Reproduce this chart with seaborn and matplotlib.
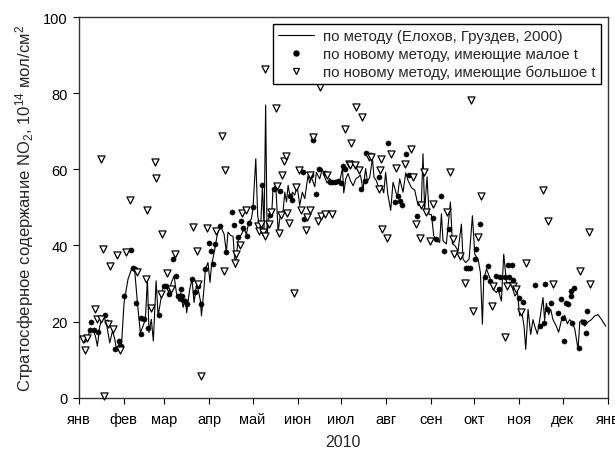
import numpy as np
import pandas as pd
import matplotlib
matplotlib.use("Agg")
import matplotlib.pyplot as plt
import seaborn as sns
from matplotlib.lines import Line2D

# ---------------- data (day of year 2010, value in 1e14 mol/cm^2) ----------------
line_day = [2.3, 4.1, 6, 7.6, 9.9, 11.5, 12.9, 14.5, 16.8, 18.9, 21.4, 23.3, 24.8, 26, 27.6, 29.4,
            31.3, 34, 36.8, 38.6, 40.5, 42.5, 44.4, 46, 47.4, 48.5, 50.1, 51.5, 53.4, 54.8, 56.6,
            58.2, 60.5, 62.1, 64, 65.8, 67.4, 69, 70.4, 72, 73.6, 74.5, 76.6, 78.2, 79.6, 81.2,
            82.4, 84, 84.7, 86.5, 87.4, 89.2, 90.6, 91.6, 93.9, 95.7, 97.3, 98.5, 100.3, 101.9,
            103, 104.9, 106.5, 108.1, 109, 110.4, 112.3, 114.1, 115.7, 117.3, 119.2, 120.3,
            122.2, 123.5, 125.4, 126.8, 127.9, 129, 130, 131.5, 133.1, 134.1, 136, 137.6, 139.2,
            141.1, 142.2, 143.4, 144.5, 146.1, 147.5, 149.1, 150.7, 152.5, 154.3, 156, 157.1,
            158.3, 159.4, 160.6, 162.9, 164, 166.3, 168.1, 169.8, 171.4, 173.2, 175.5, 177.8,
            180.1, 182, 182.9, 184.3, 185.9, 187.5, 189.4, 191.2, 192.8, 194.4, 196.2, 198,
            199.2, 200.8, 202.7, 203.8, 205.4, 207, 208.8, 210.5, 211.8, 213.4, 215.3, 216.9,
            218, 219.9, 221.5, 223.8, 225.7, 227.3, 229.6, 231.9, 234.2, 236.5, 237.6, 238.7,
            240.4, 241.8, 243.4, 245, 246.8, 249.1, 250.3, 251.4, 253.7, 256.5, 257.9, 259.5,
            261.8, 264.1, 265.2, 267.1, 269.4, 271.7, 273.3, 275.6, 277.2, 278.6, 279.5, 281.4,
            283.6, 286, 288.3, 289.4, 291.7, 293.3, 295.2, 298.2, 301, 302.8, 304.3, 305.5,
            307.3, 308.5, 310.1, 311.9, 313.5, 314.7, 316.5, 318.1, 320.4, 321.5, 322.7, 324.3,
            325.7, 327.3, 329.6, 331.2, 333.1, 335.3, 337.2, 338.8, 340.4, 342.3, 344.6, 345.8,
            347.4, 349.2, 351.5, 353.8, 356.1, 358.4, 360.7, 363.7]
line_val = [15.3, 14.4, 15.6, 17.5, 17.8, 16.2, 13.5, 18.8, 21.5, 20, 14.4, 17.5, 15.6, 12.7, 14, 13.2,
            25, 31.1, 34.2, 33.5, 25, 17.1, 18.8, 20.6, 31.1, 17.1, 20.6, 14.9, 30.7, 21.5, 25.6,
            29, 29.4, 27.6, 30.3, 32, 27.6, 25.4, 27.6, 23.7, 25.9, 22.3, 28.5, 31.1, 25, 29.4,
            28.5, 25.4, 21.5, 28.9, 33.8, 35.5, 30.3, 34.6, 39, 43, 44.8, 44.5, 43, 38.2,
            43.5, 42.6, 42.4, 34.2, 38.2, 42.1, 42.9, 44.3, 43, 46, 47, 50,
            62.8, 47.8, 43.5, 55.8, 43.9, 76.9, 42.6, 48.3, 47.5, 54.9, 55.8, 43.5, 48.3,
            49.2, 54, 51.4, 55.8, 52.3, 54, 53.2, 55.8, 50.5, 54, 52.3, 55.4,
            58.4, 56.4, 57.9, 55.4, 59.2, 57.5, 60.1, 57.9, 56.4, 57.6, 56.1, 56.4,
            56.8, 60.2, 53.8, 57.5, 58.9, 57, 55.7, 57.5, 57.9, 58.5, 54.7, 60.2,
            56.8, 57.9, 62.8, 57.9, 57, 55.2, 55.8, 53.8, 59.2, 53.2, 49.2, 56.6,
            55.2, 52.5, 57.5, 54, 59.1, 57, 55.2, 54.5, 50.5, 51.4, 64.1, 49.2,
            58, 48.1, 48.1, 42.6, 41.2, 40.8, 48.3, 41.2, 40.4, 51.4, 40.4, 40,
            38.6, 45.6, 36.4, 35.5, 36.4, 47.8, 37.7, 36.4, 32.9, 19.3, 31.2, 33.8,
            31.6, 28.5, 27.6, 28.5, 25.4, 37.7, 30.3, 30.3, 26.7, 27.6, 21.5, 23.2,
            18.8, 12.7, 23.2, 16.6, 20.5, 18.8, 16.7, 20.3, 26.3, 20.3, 24.8, 21.8,
            23.2, 20.5, 18.8, 17.2, 20.3, 21.6, 19.4, 20.5, 19.9, 18.1, 12.7, 19.9,
            20.5, 18.8, 19.9, 20.5, 21.5, 21.8, 20.6, 18.8]

dot_day = [7.6, 8.7, 10.6, 13.3, 18.4, 19.3, 25.3, 27.6, 29.4, 31.3, 36.3, 37.5, 39, 39.3, 42.8,
           43.3, 44.9, 47.9, 55.2, 58.9, 60.5, 62, 65.1, 67.4, 68.5, 70.4, 70.9, 71.6, 73.6, 75,
           78.2, 80, 82.4, 84.7, 87.4, 89.7, 91.6, 92.7, 93.9, 97.3, 101.9, 106.1, 107.2, 110,
           112.3, 113.5, 116, 117.3, 120, 126.8, 132.3, 134.6, 138.7, 145.6, 147.5, 154.8, 155.3,
           160.6, 161.7, 164, 165.9, 169.8, 173.2, 175, 177, 179, 181, 182.4, 184, 194.6, 197.4,
           198, 200, 202, 207, 213.5, 218, 220.4, 221.5, 223.4, 226.1, 228, 233.5, 244.4, 246.4,
           250.3, 252.1, 255.6, 267, 268.5, 270, 273.3, 274.5, 277.2, 280.2, 282.5, 283.6, 287.8,
           290, 291, 294, 296, 297, 299, 300, 303.7, 306.6, 315.2, 318.5, 321, 322, 323.5, 325.7,
           330.8, 333.1, 334.3, 335, 336.5, 337.5, 339.5, 340, 340.4, 341.8, 345, 347.8, 349,
           349.9, 351]
dot_val = [17.8, 19.8, 17.8, 17.2, 21.6, 19.9, 12.7, 14.9, 13.7, 26.7, 38.9, 34.1, 33.9, 25, 16.6,
           21, 20.6, 18.4, 21.6, 29.4, 29.4, 27.2, 36.4, 32, 26.7, 28.5, 25.9, 26.7, 25.4, 24.5,
           31.3, 27.8, 29.4, 24.5, 33.8, 40.6, 38.6, 35, 40.4, 45.2, 38.2, 48.9, 45.4, 42.1,
           46.5, 44.5, 42.6, 45.9, 50, 55.8, 48.1, 54.9, 54.2, 53, 52, 59.3, 47,
           58.4, 67.8, 53.6, 60.2, 59, 56.7, 56.6, 56.6, 57, 56.4, 61, 60, 54.7, 57,
           64.3, 63.7, 63.8, 58, 67, 51.5, 53.1, 51.8, 50.7, 64.1, 58.6, 47.8, 47.3, 41.7,
           52.9, 38.6, 44.3, 34.2, 34.2, 34.2, 36.4, 39, 45.6, 31.6, 34.6, 30.7, 32,
           28.5, 31.8, 31.8, 34.8, 31.8, 34.8, 31, 26.3, 25.2, 29.6, 18.8, 19.5, 29.8, 23.2, 24.8,
           22.2, 26, 21, 15, 25, 24.5, 26.7, 28, 19.7, 28.9, 13.1, 19.9, 19.9,
           16.9, 22.8]

tri_day = [3, 4.6, 6, 11.5, 12.9, 15.2, 15.6, 16.8, 17.5, 20.2, 21.4, 23.7, 26.4, 28.5, 32.4, 35.7,
           40.5, 46.7, 47.4, 49.7, 52.4, 53.4, 56.6, 57.5, 61.2, 63.5, 66.3, 79.1, 81.9, 82.5,
           84.2, 88.8, 95, 99.2, 100.8, 100.3, 108.4, 108.1, 111.1, 112.7, 115.3, 123.8, 124.4,
           126, 127.2, 128.4, 128.5, 131.3, 133, 136, 136.8, 138.2, 139.9, 140.6, 141.7, 142.9,
           143.8, 145.1, 148.6, 149.8, 152, 153.7, 157.1, 157.8, 159.4, 159.6, 161.7, 165.2,
           166.8, 167.5, 169.8, 171.4, 175, 183.6, 186.3, 187.4, 187.7, 190.5, 191.6, 193.5,
           195.5, 200.1, 202, 207.3, 207.7, 208.4, 209.6, 212.8, 215.8, 219.3, 225, 229.6, 230.7,
           232.6, 235.3, 236.5, 238, 240, 242.7, 244.5, 254.4, 256, 258.3, 259, 263.4, 266.4,
           271, 272.1, 275.6, 277.9, 285.5, 286, 294.5, 295.5, 300, 302, 305, 309, 320.4, 323.9,
           327.3, 345.8, 352.2, 353.1]
tri_val = [15.3, 12.5, 15.6, 23.2, 20.6, 20.6, 62.6, 39, 0.4, 19.3, 34.7, 18, 37.5, 12.5, 38.3, 52,
           33, 31.1, 49.3, 23.5, 62, 57.7, 27.2, 43, 32.7, 28.5, 37.7, 44.8, 38.6, 29.8,
           5.8, 44.5, 43.9, 68.8, 59.7, 33.2, 37.7, 35.5, 40.1, 48.5, 49.2, 45.2, 43.9,
           45.6, 43.5, 42.6, 86.4, 45.5, 48.7, 76, 55.6, 43.3, 48, 58.4, 62.1, 63.5,
           48.4, 45.9, 27.6, 55.3, 59.9, 49.2, 44.1, 47.5, 49.4, 58.6, 68.5, 46.5,
           81.7, 47.8, 48.3, 58.4, 48.3, 70.7, 61.5, 61.2, 66.8, 61.2, 76.4, 59.9,
           73.8, 63.2, 63.2, 54.9, 59.7, 62.6, 44.3, 41.9, 64.1, 60.3, 61.5, 65.4, 58,
           45.6, 41.9, 50.5, 59.4, 48.9, 41.2, 50.9, 48.7, 59.3, 41.7, 37.7, 37.3, 30.1,
           78.2, 22.8, 42.1, 53.1, 24.1, 29.4, 16, 29.3, 29.3, 28.5, 22.5, 35.4, 54.6, 46.5,
           29.8, 33.2, 43.4, 29.8]

month_labels = ['янв', 'фев', 'мар', 'апр', 'май', 'июн', 'июл', 'авг', 'сен', 'окт', 'ноя', 'дек', 'янв']
legend_labels = ['по методу (Елохов, Груздев, 2000)',
                 'по новому методу, имеющие малое t',
                 'по новому методу, имеющие большое t']
x_label = '2010'
y_label = 'Стратосферное содержание NO$_2$, 10$^{14}$ мол/см$^2$'

# ---------------- build tables ----------------
start = pd.Timestamp('2010-01-01')
def to_df(days, vals):
    return pd.DataFrame({'date': start + pd.to_timedelta(np.array(days), unit='D'),
                         'val': vals})
line_df = to_df(line_day, line_val)
dot_df = to_df(dot_day, dot_val)
tri_df = to_df(tri_day, tri_val)

# ---------------- style ----------------
sns.set_style('ticks')
plt.rcParams['font.family'] = ['Liberation Sans', 'DejaVu Sans']
plt.rcParams['mathtext.fontset'] = 'custom'
plt.rcParams['mathtext.rm'] = 'Liberation Sans'
plt.rcParams['mathtext.it'] = 'Liberation Sans:italic'
plt.rcParams['mathtext.bf'] = 'Liberation Sans:bold'

fig = plt.figure(figsize=(6.15, 4.52), dpi=100)
ax = fig.add_axes([0.128, 0.118, 0.860, 0.842])

sns.lineplot(data=line_df, x='date', y='val', ax=ax, color='black', linewidth=0.8,
             estimator=None, sort=True, label='_nolegend_')
sns.scatterplot(data=dot_df, x='date', y='val', ax=ax, color='black', marker='o',
                s=14, edgecolor='black', linewidth=0.3, zorder=3, label='_nolegend_')
sns.scatterplot(data=tri_df, x='date', y='val', ax=ax, facecolor='white', marker='v',
                s=26, edgecolor='black', linewidth=0.9, zorder=4, clip_on=False,
                label='_nolegend_')

ax.set_xlim(pd.Timestamp('2010-01-01'), pd.Timestamp('2011-01-01'))
ax.set_ylim(0, 100)
ax.set_yticks([0, 20, 40, 60, 80, 100])
ax.set_xticks(pd.date_range('2010-01-01', '2011-01-01', freq='MS'))
ax.set_xticklabels(month_labels)

ax.set_xlabel(x_label, fontsize=11.5, labelpad=6)
ax.set_ylabel(y_label, fontsize=12, labelpad=5)

ax.tick_params(axis='both', direction='out', length=4, width=0.8, colors='black',
               labelsize=10.5, pad=4)
ax.tick_params(axis='x', pad=6)
for sp in ax.spines.values():
    sp.set_visible(True)
    sp.set_color('#333333')
    sp.set_linewidth(1.0)

handles = [
    Line2D([], [], color='black', linewidth=0.8),
    Line2D([], [], color='black', marker='o', linestyle='none', markersize=3.6),
    Line2D([], [], markerfacecolor='white', markeredgecolor='black', marker='v',
           linestyle='none', markersize=5, markeredgewidth=0.9),
]
leg = ax.legend(handles, legend_labels, loc='upper right', fontsize=10.8,
                frameon=True, fancybox=False, framealpha=1, edgecolor='black',
                handlelength=2.4, handletextpad=0.6, labelspacing=0.25,
                borderpad=0.35, borderaxespad=0.45)
leg.get_frame().set_linewidth(1.0)

fig.savefig('out.png', dpi=100)
